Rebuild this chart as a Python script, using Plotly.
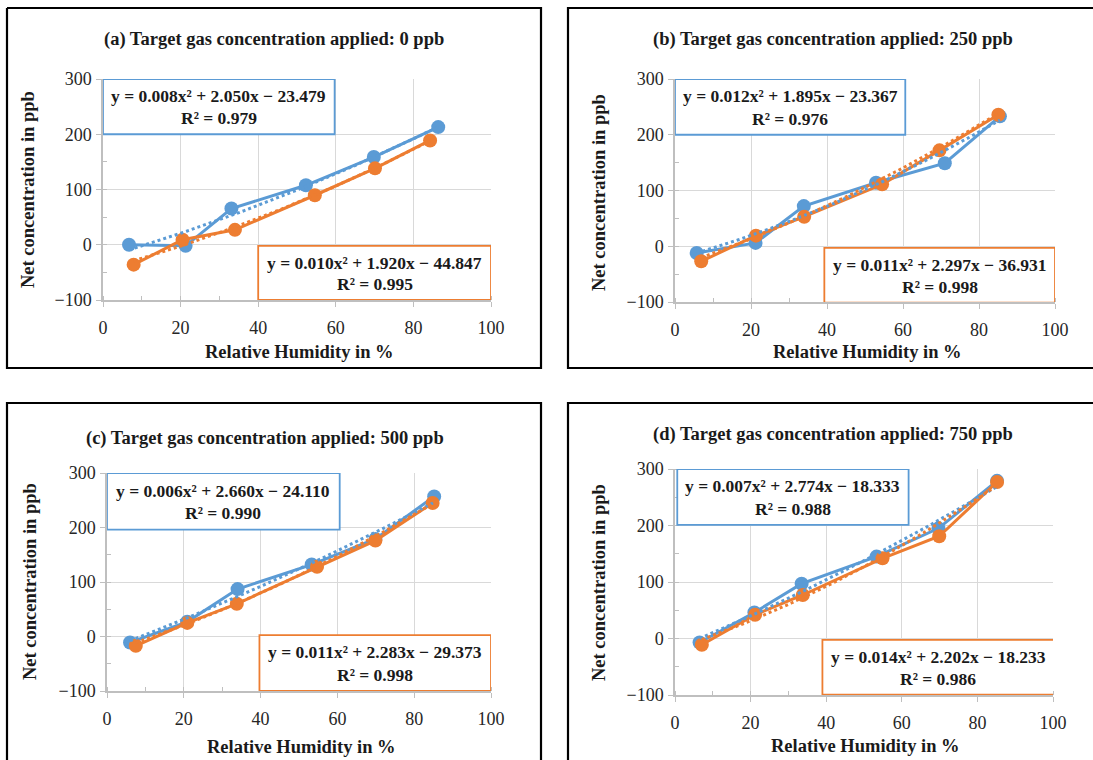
import numpy as np
import plotly.graph_objects as go

W, H = 1093, 760

panel_titles = [
    "(a) Target gas concentration applied: 0 ppb",
    "(b) Target gas concentration applied: 250 ppb",
    "(c) Target gas concentration applied: 500 ppb",
    "(d) Target gas concentration applied: 750 ppb",
]
x_title = "Relative Humidity in %"
y_title = "Net concentration in ppb"
x_ticks = [0, 20, 40, 60, 80, 100]
y_ticks = [-100, 0, 100, 200, 300]

# measured data (relative humidity %, net concentration ppb)
blue_x_a = [6.7, 21.3, 33.1, 52.3, 69.8, 86.4]
blue_y_a = [0, -2, 65.5, 107.6, 158.7, 212.9]
orange_x_a = [7.9, 20.5, 34.0, 54.6, 70.1, 84.3]
orange_y_a = [-36, 9, 27, 89.6, 138.3, 188.8]

blue_x_b = [5.7, 21.2, 33.9, 52.9, 71.0, 85.5]
blue_y_b = [-12, 6, 72, 114, 149, 233]
orange_x_b = [6.9, 21.3, 34.0, 54.5, 69.6, 85.1]
orange_y_b = [-27, 19, 53, 111, 172, 236]

blue_x_c = [6.0, 20.9, 34.0, 53.3, 69.9, 85.2]
blue_y_c = [-11, 27, 87, 132, 179, 257]
orange_x_c = [7.5, 20.9, 33.8, 54.7, 69.9, 84.8]
orange_y_c = [-17, 25, 60, 128, 176, 245]

blue_x_d = [6.5, 21.0, 33.5, 53.3, 69.7, 85.2]
blue_y_d = [-7, 46, 97, 145, 195, 279]
orange_x_d = [7.1, 21.2, 33.8, 54.9, 69.9, 85.2]
orange_y_d = [-11, 42, 77, 142, 181, 277]

# polynomial trendline coefficients (a2, a1, a0) and R^2 as printed
blue_fit = [(0.008, 2.050, -23.479), (0.012, 1.895, -23.367),
            (0.006, 2.660, -24.110), (0.007, 2.774, -18.333)]
blue_r2 = [0.979, 0.976, 0.990, 0.988]
orange_fit = [(0.010, 1.920, -44.847), (0.011, 2.297, -36.931),
              (0.011, 2.283, -29.373), (0.014, 2.202, -18.233)]
orange_r2 = [0.995, 0.998, 0.998, 0.986]

blue_x = [blue_x_a, blue_x_b, blue_x_c, blue_x_d]
blue_y = [blue_y_a, blue_y_b, blue_y_c, blue_y_d]
orange_x = [orange_x_a, orange_x_b, orange_x_c, orange_x_d]
orange_y = [orange_y_a, orange_y_b, orange_y_c, orange_y_d]

BLUE = "#5b9bd5"
ORANGE = "#ed7d31"
FONT = "Liberation Serif"
TXT = "#1a1a1a"

# layout geometry (pixels)
plot_px = [  # x0, x100, y300, y-100
    (103, 491, 79, 300),
    (675, 1055, 79, 302),
    (107, 491, 473, 691),
    (675, 1053, 469, 695),
]
# frame outlines as polylines (pixel points), kept inside the page
frames_px = [
    [(7, 8), (541, 8), (541, 368), (7, 368), (7, 8)],
    [(1093, 8), (568, 8), (568, 368), (1093, 368)],
    [(7, 760), (7, 403), (541, 403), (541, 760)],
    [(1093, 403), (568, 403), (568, 760)],
]
title_px = [(274, 40), (833, 40), (265, 438), (833, 435)]
ytitle_px = [(28, 190), (599, 193), (30, 582), (599, 583)]
xtitle_px = [(299, 352), (867, 352), (301, 747), (865, 746)]
blue_box = [(0, 59.7, 200, 300), (0, 60.6, 200, 300), (0, 60.6, 196, 300), (0.6, 61.8, 201, 300)]
orange_box = [(40, 100, -100, -2), (39.3, 100, -101, -3), (39.7, 100, -100, 2.5), (39, 100.3, -99.6, -2.4)]

fig = go.Figure()
shapes = []
annotations = []


def px_x(v):
    return v / W


def px_y(v):
    return 1 - v / H


def eq_text(c):
    a2, a1, a0 = c
    sign = "−" if a0 < 0 else "+"
    return f"y = {a2:.3f}x² + {a1:.3f}x {sign} {abs(a0):.3f}"


for i in range(4):
    sfx = "" if i == 0 else str(i + 1)
    xa, ya = "x" + sfx, "y" + sfx
    x0, x1, yt, yb = plot_px[i]
    axis_common = dict(
        showgrid=True, gridcolor="#d9d9d9", gridwidth=1,
        showline=True, linecolor="#bfbfbf", linewidth=1.5,
        ticks="outside", ticklen=5, tickcolor="#bfbfbf", tickwidth=1,
        tickfont=dict(family=FONT, size=18, color="#262626"),
        zeroline=False, fixedrange=True, automargin=False,
    )
    fig.layout["xaxis" + sfx] = dict(
        axis_common, domain=[px_x(x0), px_x(x1)], range=[0, 100], anchor=ya,
        tickvals=x_ticks, ticklabelstandoff=6,
        minor=dict(ticks="inside", ticklen=4, tickcolor="#bfbfbf", dtick=10, showgrid=False),
    )
    fig.layout["yaxis" + sfx] = dict(
        axis_common, domain=[px_y(yb), px_y(yt)], range=[-100, 300], anchor=xa,
        tickvals=y_ticks, ticklabelstandoff=1,
        minor=dict(ticks="inside", ticklen=4, tickcolor="#bfbfbf", dtick=50, showgrid=False),
    )

    for xs, ys, col in [(blue_x[i], blue_y[i], BLUE), (orange_x[i], orange_y[i], ORANGE)]:
        fig.add_trace(go.Scatter(
            x=xs, y=ys, mode="lines+markers", xaxis=xa, yaxis=ya,
            line=dict(color=col, width=3), marker=dict(color=col, size=14),
            showlegend=False, hoverinfo="skip"))
    for xs, c, col in [(blue_x[i], blue_fit[i], BLUE), (orange_x[i], orange_fit[i], ORANGE)]:
        xt = np.linspace(min(xs), max(xs), 60)
        fig.add_trace(go.Scatter(
            x=xt, y=np.polyval(c, xt), mode="lines", xaxis=xa, yaxis=ya,
            line=dict(color=col, width=3, dash="dot"),
            showlegend=False, hoverinfo="skip"))

    # equation boxes
    for box, col, c, r2 in [(blue_box[i], BLUE, blue_fit[i], blue_r2[i]),
                            (orange_box[i], ORANGE, orange_fit[i], orange_r2[i])]:
        bx0, bx1, by0, by1 = box
        shapes.append(dict(type="rect", xref=xa, yref=ya, x0=bx0, x1=bx1, y0=by0, y1=by1,
                           line=dict(color=col, width=1.8), fillcolor="white", layer="above"))
        hgt = by1 - by0
        for txt, yy in [(eq_text(c), by1 - 0.31 * hgt), (f"R² = {r2:.3f}", by0 + 0.29 * hgt)]:
            annotations.append(dict(
                x=(bx0 + bx1) / 2, y=yy, xref=xa, yref=ya, text=f"<b>{txt}</b>",
                showarrow=False, xanchor="center", yanchor="middle",
                font=dict(family=FONT, size=17.5, color=TXT)))

    # frames
    pts = frames_px[i]
    path = "M " + " L ".join(f"{px_x(px):.5f},{px_y(py):.5f}" for px, py in pts)
    shapes.append(dict(type="path", xref="paper", yref="paper", path=path,
                       line=dict(color="black", width=2.2)))

    tx, ty = title_px[i]
    annotations.append(dict(x=px_x(tx), y=px_y(ty), xref="paper", yref="paper",
                            text=f"<b>{panel_titles[i]}</b>", showarrow=False,
                            xanchor="center", yanchor="middle",
                            font=dict(family=FONT, size=18.5, color=TXT)))
    tx, ty = xtitle_px[i]
    annotations.append(dict(x=px_x(tx), y=px_y(ty), xref="paper", yref="paper",
                            text=f"<b>{x_title}</b>", showarrow=False,
                            xanchor="center", yanchor="middle",
                            font=dict(family=FONT, size=18.5, color=TXT)))
    tx, ty = ytitle_px[i]
    annotations.append(dict(x=px_x(tx), y=px_y(ty), xref="paper", yref="paper",
                            text=f"<b>{y_title}</b>", showarrow=False, textangle=-90,
                            xanchor="center", yanchor="middle",
                            font=dict(family=FONT, size=18.5, color=TXT)))

fig.update_layout(
    width=W, height=H, margin=dict(l=0, r=0, t=0, b=0, autoexpand=False),
    paper_bgcolor="white", plot_bgcolor="white",
    shapes=shapes, annotations=annotations, showlegend=False,
)

fig.write_html("out.html", config={"displayModeBar": False})
